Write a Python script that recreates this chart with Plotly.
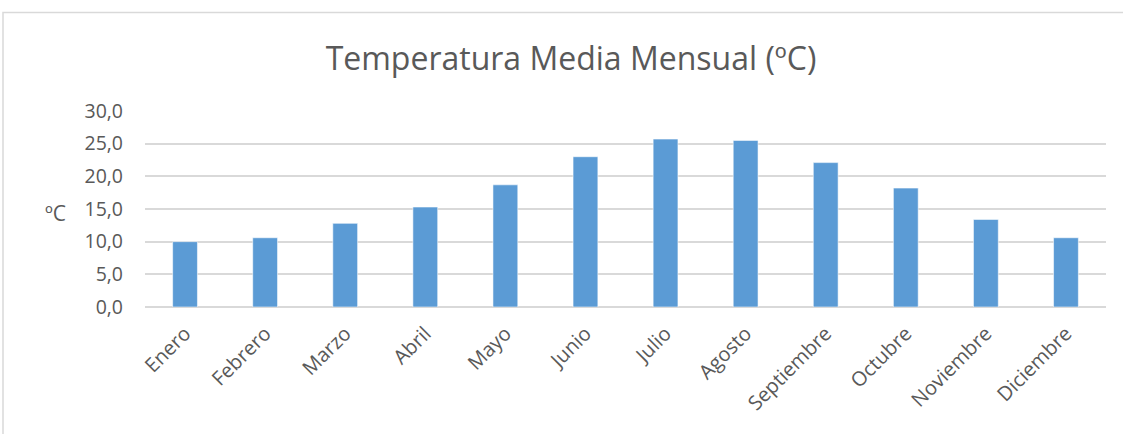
import plotly.graph_objects as go

# Monthly mean temperature (ºC)
meses = ["Enero", "Febrero", "Marzo", "Abril", "Mayo", "Junio", "Julio",
         "Agosto", "Septiembre", "Octubre", "Noviembre", "Diciembre"]
temperatura = [10.0, 10.6, 12.8, 15.3, 18.7, 23.0, 25.7, 25.5, 22.1, 18.2, 13.4, 10.6]
ticks_y = [0, 5, 10, 15, 20, 25, 30]

W, H = 1123, 434
ML, MR, MT, MB = 145, 17, 111, 127
FONT = "Open Sans"
TXT = "#595959"
GRID = "#d9d9d9"

fig = go.Figure(go.Bar(
    x=meses,
    y=temperatura,
    marker=dict(color="#5b9bd5", line=dict(color="rgba(255,255,255,0.55)", width=1)),
))

pw = W - ML - MR
ph = H - MT - MB

fig.update_layout(
    width=W, height=H,
    margin=dict(l=ML, r=MR, t=MT, b=MB),
    paper_bgcolor="white", plot_bgcolor="white",
    separators=",.",
    bargap=0.69,
    showlegend=False,
    font=dict(family=FONT, color=TXT, size=17),
    title=dict(
        text="Temperatura Media Mensual (ºC)",
        x=571 / W, xref="container", xanchor="center",
        y=1 - 59 / H, yref="container", yanchor="middle",
        font=dict(family=FONT, size=32, color=TXT),
    ),
    xaxis=dict(
        tickangle=-45, tickfont=dict(size=20, color=TXT),
        showgrid=False, showline=False, ticks="", zeroline=False,
        ticklabelstandoff=10,
    ),
    yaxis=dict(
        range=[0, 30], tickvals=ticks_y, tickformat=".1f",
        tickfont=dict(size=19.5, color=TXT),
        showgrid=True, gridcolor=GRID, gridwidth=1.5,
        zeroline=True, zerolinecolor=GRID, zerolinewidth=1.5,
        showline=False, ticks="", ticklabelstandoff=21,
    ),
    annotations=[dict(
        text="ºC", xref="paper", yref="paper",
        x=(55 - ML) / pw, y=(H - MB - 213) / ph,
        xanchor="center", yanchor="middle", showarrow=False,
        font=dict(family=FONT, size=21, color=TXT),
    )],
    shapes=[dict(
        type="rect", xref="paper", yref="paper",
        x0=(3 - ML) / pw, x1=(W + 5 - ML) / pw,
        y0=(H - MB - (H + 5)) / ph, y1=(H - MB - 12.5) / ph,
        line=dict(color=GRID, width=1.5), fillcolor="rgba(0,0,0,0)",
        layer="below",
    )],
)

fig.write_html("out.html")
